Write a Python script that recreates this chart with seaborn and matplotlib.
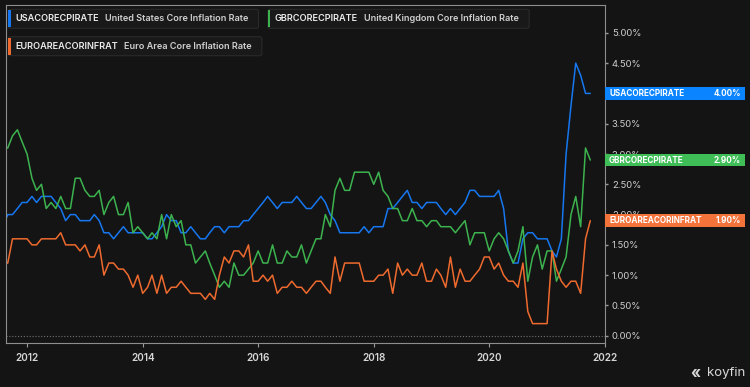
import matplotlib
matplotlib.use("Agg")
import matplotlib.pyplot as plt
import matplotlib.dates as mdates
from matplotlib.patches import Rectangle, FancyBboxPatch
from matplotlib.ticker import FuncFormatter
from matplotlib.transforms import blended_transform_factory
import numpy as np
import pandas as pd
import seaborn as sns

# ── Data (monthly, end of month, Jul 2011 .. Sep 2021) ────────────────────────

tickers = ["USACORECPIRATE", "GBRCORECPIRATE", "EUROAREACORINFRAT"]
names = ["United States Core Inflation Rate",
         "United Kingdom Core Inflation Rate",
         "Euro Area Core Inflation Rate"]

usa = [1.8, 2.0, 2.0, 2.1, 2.2, 2.2,
       2.3, 2.2, 2.3, 2.3, 2.3, 2.2, 2.1, 1.9, 2.0, 2.0, 1.9, 1.9,
       1.9, 2.0, 1.9, 1.7, 1.7, 1.6, 1.7, 1.8, 1.7, 1.7, 1.7, 1.7,
       1.6, 1.6, 1.7, 1.8, 2.0, 1.9, 1.9, 1.7, 1.7, 1.8, 1.7, 1.6,
       1.6, 1.7, 1.8, 1.8, 1.7, 1.8, 1.8, 1.8, 1.9, 1.9, 2.0, 2.1,
       2.2, 2.3, 2.2, 2.1, 2.2, 2.2, 2.2, 2.3, 2.2, 2.1, 2.1, 2.2,
       2.3, 2.2, 2.0, 1.9, 1.7, 1.7, 1.7, 1.7, 1.7, 1.8, 1.7, 1.8,
       1.8, 1.8, 2.1, 2.1, 2.2, 2.3, 2.4, 2.2, 2.2, 2.1, 2.2, 2.2,
       2.2, 2.1, 2.0, 2.1, 2.0, 2.1, 2.2, 2.4, 2.4, 2.3, 2.3, 2.3,
       2.3, 2.4, 2.1, 1.4, 1.2, 1.2, 1.6, 1.7, 1.7, 1.6, 1.6, 1.6,
       1.4, 1.3, 1.6, 3.0, 3.8, 4.5, 4.3, 4.0, 4.0]

gbr = [3.1, 3.1, 3.3, 3.4, 3.2, 3.0,
       2.6, 2.4, 2.5, 2.1, 2.2, 2.1, 2.3, 2.1, 2.1, 2.6, 2.6, 2.4,
       2.3, 2.3, 2.4, 2.0, 2.2, 2.3, 2.0, 2.0, 2.2, 1.7, 1.8, 1.7,
       1.6, 1.7, 1.6, 2.0, 1.6, 2.0, 1.8, 1.9, 1.5, 1.5, 1.2, 1.3,
       1.4, 1.2, 1.0, 0.8, 0.9, 0.8, 1.2, 1.0, 1.0, 1.1, 1.2, 1.4,
       1.2, 1.2, 1.5, 1.2, 1.2, 1.4, 1.3, 1.3, 1.5, 1.2, 1.4, 1.6,
       1.6, 2.0, 1.8, 2.4, 2.6, 2.4, 2.4, 2.7, 2.7, 2.7, 2.7, 2.5,
       2.7, 2.4, 2.3, 2.1, 2.1, 1.9, 1.9, 2.1, 1.9, 1.9, 1.8, 1.9,
       1.9, 1.8, 1.8, 1.8, 1.7, 1.8, 1.9, 1.5, 1.7, 1.7, 1.7, 1.4,
       1.6, 1.7, 1.6, 1.4, 1.2, 1.4, 1.8, 0.9, 1.3, 1.5, 1.1, 1.4,
       1.4, 0.9, 1.1, 1.3, 2.0, 2.3, 1.8, 3.1, 2.9]

eur = [1.2, 1.2, 1.6, 1.6, 1.6, 1.6,
       1.5, 1.5, 1.6, 1.6, 1.6, 1.6, 1.7, 1.5, 1.5, 1.5, 1.4, 1.5,
       1.3, 1.3, 1.5, 1.0, 1.2, 1.2, 1.1, 1.1, 1.0, 0.8, 1.0, 0.7,
       0.8, 1.0, 0.7, 1.0, 0.7, 0.8, 0.8, 0.9, 0.8, 0.7, 0.7, 0.7,
       0.6, 0.7, 0.6, 1.0, 1.3, 1.2, 1.4, 1.4, 1.3, 1.5, 0.9, 0.9,
       1.0, 0.9, 1.0, 0.7, 0.8, 0.8, 0.9, 0.8, 0.8, 0.7, 0.8, 0.9,
       0.9, 0.8, 0.7, 1.3, 0.9, 1.2, 1.2, 1.2, 1.2, 0.9, 0.9, 0.9,
       1.0, 1.0, 1.1, 0.7, 1.2, 1.0, 1.1, 1.0, 1.0, 1.2, 0.9, 0.9,
       1.1, 1.0, 0.8, 1.3, 0.8, 1.1, 0.9, 0.9, 1.0, 1.1, 1.3, 1.3,
       1.1, 1.2, 1.0, 0.9, 0.9, 0.8, 1.2, 0.4, 0.2, 0.2, 0.2, 0.2,
       1.4, 1.1, 0.9, 0.8, 0.9, 0.9, 0.7, 1.6, 1.9]

series_values = [usa, gbr, eur]
dates = pd.date_range("2011-08-01", periods=len(usa), freq="MS") - pd.Timedelta(days=1)

df = pd.DataFrame({
    "date":   np.tile(dates.values, len(tickers)),
    "value":  usa + gbr + eur,
    "series": np.repeat(tickers, len(dates)),
})

# ── Style ─────────────────────────────────────────────────────────────────────

BG         = "#141414"
LINE_COLS  = ["#1677F0", "#3DB34F", "#EE6A2E"]
BOX_COLS   = ["#0A84FF", "#3FBE58", "#F4733A"]
FRAME      = "#8e8e8e"

sns.set_style("dark", {"axes.facecolor": BG, "figure.facecolor": BG})
plt.rcParams["font.family"] = ["Inter", "DejaVu Sans"]

W, H = 750, 387
fig = plt.figure(figsize=(W / 100, H / 100), dpi=100, facecolor=BG)
ax_l, ax_r, ax_t, ax_b = 5.7, 605.0, 5.0, 343.0
ax = fig.add_axes([ax_l / W, 1 - ax_b / H, (ax_r - ax_l) / W, (ax_b - ax_t) / H])
ax.set_facecolor(BG)

sns.lineplot(data=df, x="date", y="value", hue="series",
             palette=dict(zip(tickers, LINE_COLS)), legend=False,
             linewidth=1.1, ax=ax)

ax.axhline(0, color="#707070", lw=0.8, ls=(0, (1, 1.6)), zorder=0)

ymin, ymax = -0.12, 5.46
ax.set_ylim(ymin, ymax)
ax.set_xlim(pd.Timestamp("2011-08-18"), pd.Timestamp("2022-01-01"))
ax.set_yticks(np.arange(0, 5.01, 0.5))
ax.yaxis.set_major_formatter(FuncFormatter(lambda v, _: f"{v:.2f}%"))
ax.yaxis.tick_right()
ax.xaxis.set_major_locator(mdates.YearLocator(2))
ax.xaxis.set_major_formatter(mdates.DateFormatter("%Y"))
ax.set_xlabel("")
ax.set_ylabel("")
ax.grid(False)

for s in ax.spines.values():
    s.set_visible(True)
    s.set_color(FRAME)
    s.set_linewidth(0.8)

ax.tick_params(axis="y", right=True, left=False, length=2, width=1,
               color="#9a9a9a", labelcolor="#cfcfcf", labelsize=6.8, pad=3)
ax.tick_params(axis="x", bottom=True, length=3, width=0.8,
               color="#9a9a9a", labelcolor="#d6d6d6", labelsize=7.2, pad=4)
for lab in ax.get_xticklabels():
    lab.set_fontweight("semibold")

# ── Last-value tags on the right ──────────────────────────────────────────────

ax_w_px = ax_r - ax_l
ax_h_px = ax_b - ax_t
trans = blended_transform_factory(ax.transAxes, ax.transData)
tag_w = (745 - ax_r) / ax_w_px
tag_h = 12.7 * (ymax - ymin) / ax_h_px
pad = 4 / ax_w_px
for tk, vals, col in zip(tickers, series_values, BOX_COLS):
    last = vals[-1]
    ax.add_patch(Rectangle((1.0, last - tag_h / 2), tag_w, tag_h, transform=trans,
                           facecolor=col, edgecolor="none", clip_on=False, zorder=6))
    ax.text(1.0 + pad, last, tk, transform=trans, ha="left", va="center",
            color="white", fontsize=5.9, fontweight="bold", zorder=7)
    ax.text(1.0 + tag_w - pad, last, f"{last:.2f}%", transform=trans, ha="right",
            va="center", color="white", fontsize=5.9, fontweight="bold", zorder=7)

# ── Legend chips (pixel overlay) ──────────────────────────────────────────────

ov = fig.add_axes([0, 0, 1, 1])
ov.set_xlim(0, W)
ov.set_ylim(H, 0)
ov.axis("off")
ov.patch.set_alpha(0)

chip_pos = [(8.3, 9.3), (268.0, 9.3), (8.3, 36.7)]
chip_h = 19.0
renderer = fig.canvas.get_renderer()
inv = ov.transData.inverted()

def right_edge(txt):
    bb = txt.get_window_extent(renderer)
    return inv.transform((bb.x1, bb.y1))[0]

for (x0, y0), tk, nm, col in zip(chip_pos, tickers, names, LINE_COLS):
    yc = y0 + chip_h / 2
    t1 = ov.text(x0 + 6.7, yc, tk, ha="left", va="center", color="#ececec",
                 fontsize=6.6, fontweight="semibold", zorder=3)
    t2 = ov.text(right_edge(t1) + 6.5, yc, nm, ha="left", va="center",
                 color="#cfcfcf", fontsize=6.6, fontweight="semibold", zorder=3)
    x2 = right_edge(t2)
    ov.add_patch(FancyBboxPatch((x0, y0), x2 + 10 - x0, chip_h,
                                boxstyle="round,pad=0,rounding_size=2",
                                facecolor="#191919", edgecolor="#2a2a2a",
                                linewidth=0.8, zorder=1))
    ov.add_patch(Rectangle((x0, y0 + 1), 2.2, chip_h - 2, facecolor=col,
                           edgecolor="none", zorder=2))

# ── Watermark ─────────────────────────────────────────────────────────────────

ov.text(745, 373, "koyfin", ha="right", va="center", color="#d8d8d8", fontsize=9.5)
ov.text(700, 373.5, "«", ha="right", va="center", color="#d8d8d8",
        fontsize=11, fontweight="bold")

fig.savefig("out.png", dpi=100, facecolor=BG)
plt.close(fig)
